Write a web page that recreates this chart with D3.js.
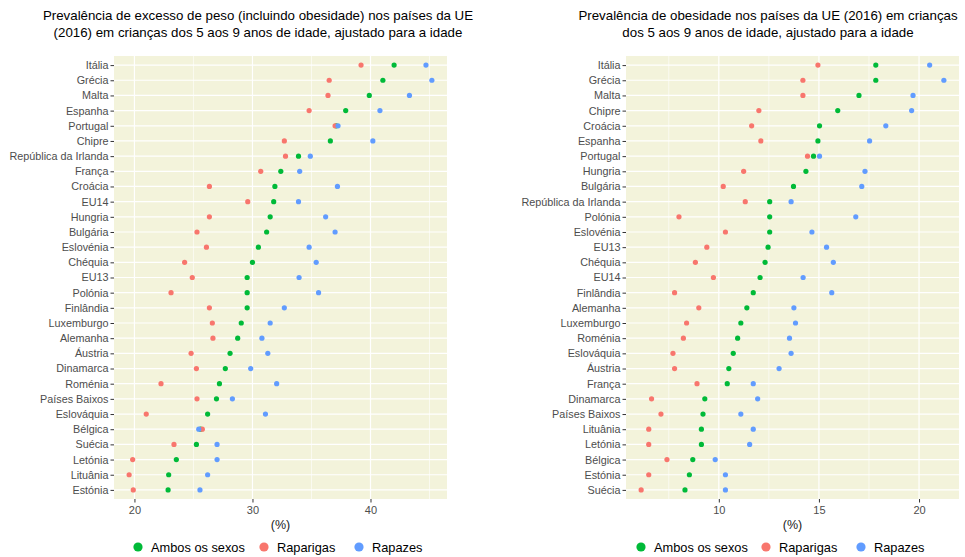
<!DOCTYPE html>
<html>
<head>
<meta charset="utf-8">
<script src="https://cdn.jsdelivr.net/npm/d3@7"></script>
<style>
  html, body { margin: 0; padding: 0; background: #ffffff; }
  svg { display: block; font-family: "Liberation Sans", Arial, sans-serif; }
</style>
</head>
<body>
<svg id="chart" width="965" height="557"></svg>
<script>
// ---------- Data: left panel (excesso de peso) ----------
const leftCountries = ["Itália","Grécia","Malta","Espanha","Portugal","Chipre","República da Irlanda","França","Croácia","EU14","Hungria","Bulgária","Eslovénia","Chéquia","EU13","Polónia","Finlândia","Luxemburgo","Alemanha","Áustria","Dinamarca","Roménia","Países Baixos","Eslováquia","Bélgica","Suécia","Letónia","Lituânia","Estónia"];
const leftAmbos     = [42.0,41.05,39.9,37.9,37.1,36.6,33.9,32.4,31.9,31.8,31.5,31.2,30.5,30.0,29.55,29.55,29.55,29.05,28.75,28.1,27.7,27.2,26.95,26.2,25.6,25.25,23.55,22.9,22.85];
const leftRaparigas = [39.2,36.5,36.4,34.8,37.0,32.7,32.8,30.7,26.35,29.6,26.35,25.3,26.1,24.25,24.9,23.1,26.35,26.6,26.65,24.8,25.25,22.25,25.3,21.0,25.75,23.35,19.85,19.55,19.9];
const leftRapazes   = [44.7,45.2,43.3,40.8,37.25,40.2,34.9,34.0,37.2,33.9,36.2,37.0,34.8,35.4,33.95,35.6,32.7,31.5,30.8,31.3,29.85,32.05,28.3,31.1,25.45,27.0,27.0,26.2,25.55];
const leftMajorTicks = [20, 30, 40];
const leftMinorTicks = [15, 25, 35, 45];

// ---------- Data: right panel (obesidade) ----------
const rightCountries = ["Itália","Grécia","Malta","Chipre","Croácia","Espanha","Portugal","Hungria","Bulgária","República da Irlanda","Polónia","Eslovénia","EU13","Chéquia","EU14","Finlândia","Alemanha","Luxemburgo","Roménia","Eslováquia","Áustria","França","Dinamarca","Países Baixos","Lituânia","Letónia","Bélgica","Estónia","Suécia"];
const rightAmbos     = [17.84,17.84,17.0,15.94,15.03,14.95,14.73,14.35,13.73,12.54,12.54,12.54,12.46,12.31,12.06,11.72,11.4,11.1,10.94,10.72,10.5,10.42,9.3,9.21,9.13,9.13,8.7,8.53,8.31];
const rightRaparigas = [14.95,14.2,14.2,12.0,11.64,12.1,14.43,11.24,10.22,11.32,8.01,10.33,9.4,8.83,9.73,7.79,9.0,8.39,8.23,7.71,7.79,8.91,6.64,7.11,6.5,6.5,7.41,6.5,6.12];
const rightRapazes   = [20.53,21.24,19.7,19.63,18.34,17.53,15.03,17.3,17.14,13.61,16.84,14.65,15.38,15.72,14.21,15.64,13.75,13.83,13.53,13.61,13.01,11.72,11.94,11.1,11.72,11.54,9.82,10.33,10.33];
const rightMajorTicks = [10, 15, 20];
const rightMinorTicks = [7.5, 12.5, 17.5];

const seriesNames  = ["Ambos os sexos", "Raparigas", "Rapazes"];
const seriesColors = ["#00BA38", "#F8766D", "#619CFF"];

const leftTitle  = ["Prevalência de excesso de peso (incluindo obesidade) nos países da UE", "(2016) em crianças dos 5 aos 9 anos de idade, ajustado para a idade"];
const rightTitle = ["Prevalência de obesidade nos países da UE (2016) em crianças", "dos 5 aos 9 anos de idade, ajustado para a idade"];
const xAxisLabel = "(%)";

// ---------- Drawing ----------
const svg = d3.select("#chart");
const bg = "#F3F3DB";

function drawPanel(cfg) {
  const { countries, series, majorTicks, minorTicks, x0, x1, y0, y1, title, titleCx, legendItems } = cfg;
  const all = series.flat();
  const mn = d3.min(all), mx = d3.max(all);
  const pad = (mx - mn) * 0.05;
  const x = d3.scaleLinear().domain([mn - pad, mx + pad]).range([x0, x1]);
  const y = d3.scalePoint().domain(countries).range([y0, y1]).padding(0.6);

  const g = svg.append("g");
  g.append("rect").attr("x", x0).attr("y", y0).attr("width", x1 - x0).attr("height", y1 - y0).attr("fill", bg);

  // minor vertical grid
  g.selectAll(".minor").data(minorTicks.filter(t => x(t) >= x0 && x(t) <= x1)).enter().append("line")
    .attr("x1", d => x(d)).attr("x2", d => x(d)).attr("y1", y0).attr("y2", y1)
    .attr("stroke", "#ffffff").attr("stroke-width", 0.6);
  // major vertical grid
  g.selectAll(".majorv").data(majorTicks).enter().append("line")
    .attr("x1", d => x(d)).attr("x2", d => x(d)).attr("y1", y0).attr("y2", y1)
    .attr("stroke", "#ffffff").attr("stroke-width", 1.2);
  // horizontal grid
  g.selectAll(".majorh").data(countries).enter().append("line")
    .attr("x1", x0).attr("x2", x1).attr("y1", d => y(d)).attr("y2", d => y(d))
    .attr("stroke", "#ffffff").attr("stroke-width", 1.2);

  // points
  series.forEach((vals, si) => {
    g.selectAll(".pt" + si).data(countries).enter().append("circle")
      .attr("cx", (d, i) => x(vals[i])).attr("cy", d => y(d)).attr("r", 2.6)
      .attr("fill", seriesColors[si]);
  });

  // y axis
  const yAxis = d3.axisLeft(y).tickSize(3.5).tickPadding(2);
  const ya = g.append("g").attr("transform", `translate(${x0},0)`).call(yAxis);
  ya.select(".domain").remove();
  ya.selectAll(".tick line").attr("stroke", "#333333");
  ya.selectAll(".tick text").attr("fill", "#4D4D4D").style("font-size", "10.8px");

  // x axis
  const xAxis = d3.axisBottom(x).tickValues(majorTicks).tickSize(3.5).tickPadding(4).tickFormat(d3.format("d"));
  const xa = g.append("g").attr("transform", `translate(0,${y1})`).call(xAxis);
  xa.select(".domain").remove();
  xa.selectAll(".tick line").attr("stroke", "#333333");
  xa.selectAll(".tick text").attr("fill", "#4D4D4D").style("font-size", "11px");

  // x label
  g.append("text").attr("x", (x0 + x1) / 2).attr("y", y1 + 30).attr("text-anchor", "middle")
    .attr("fill", "#1a1a1a").style("font-size", "12.5px").text(xAxisLabel);

  // title
  title.forEach((t, i) => {
    g.append("text").attr("x", titleCx).attr("y", 20 + i * 17).attr("text-anchor", "middle")
      .attr("fill", "#000000").style("font-size", "13.3px").text(t);
  });

  // legend
  const lg = g.append("g");
  seriesNames.forEach((nm, i) => {
    lg.append("circle").attr("cx", legendItems[i]).attr("cy", 547).attr("r", 4.6).attr("fill", seriesColors[i]);
    lg.append("text").attr("x", legendItems[i] + 13).attr("y", 551.5).attr("fill", "#000000")
      .style("font-size", "12.8px").text(nm);
  });
}

drawPanel({
  countries: leftCountries,
  series: [leftAmbos, leftRaparigas, leftRapazes],
  majorTicks: leftMajorTicks, minorTicks: leftMinorTicks,
  x0: 114, x1: 447, y0: 56, y1: 499,
  title: leftTitle, titleCx: 258,
  legendItems: [138, 264, 359]
});

drawPanel({
  countries: rightCountries,
  series: [rightAmbos, rightRaparigas, rightRapazes],
  majorTicks: rightMajorTicks, minorTicks: rightMinorTicks,
  x0: 626, x1: 959, y0: 56, y1: 499,
  title: rightTitle, titleCx: 768,
  legendItems: [641, 766, 861]
});
</script>
</body>
</html>
